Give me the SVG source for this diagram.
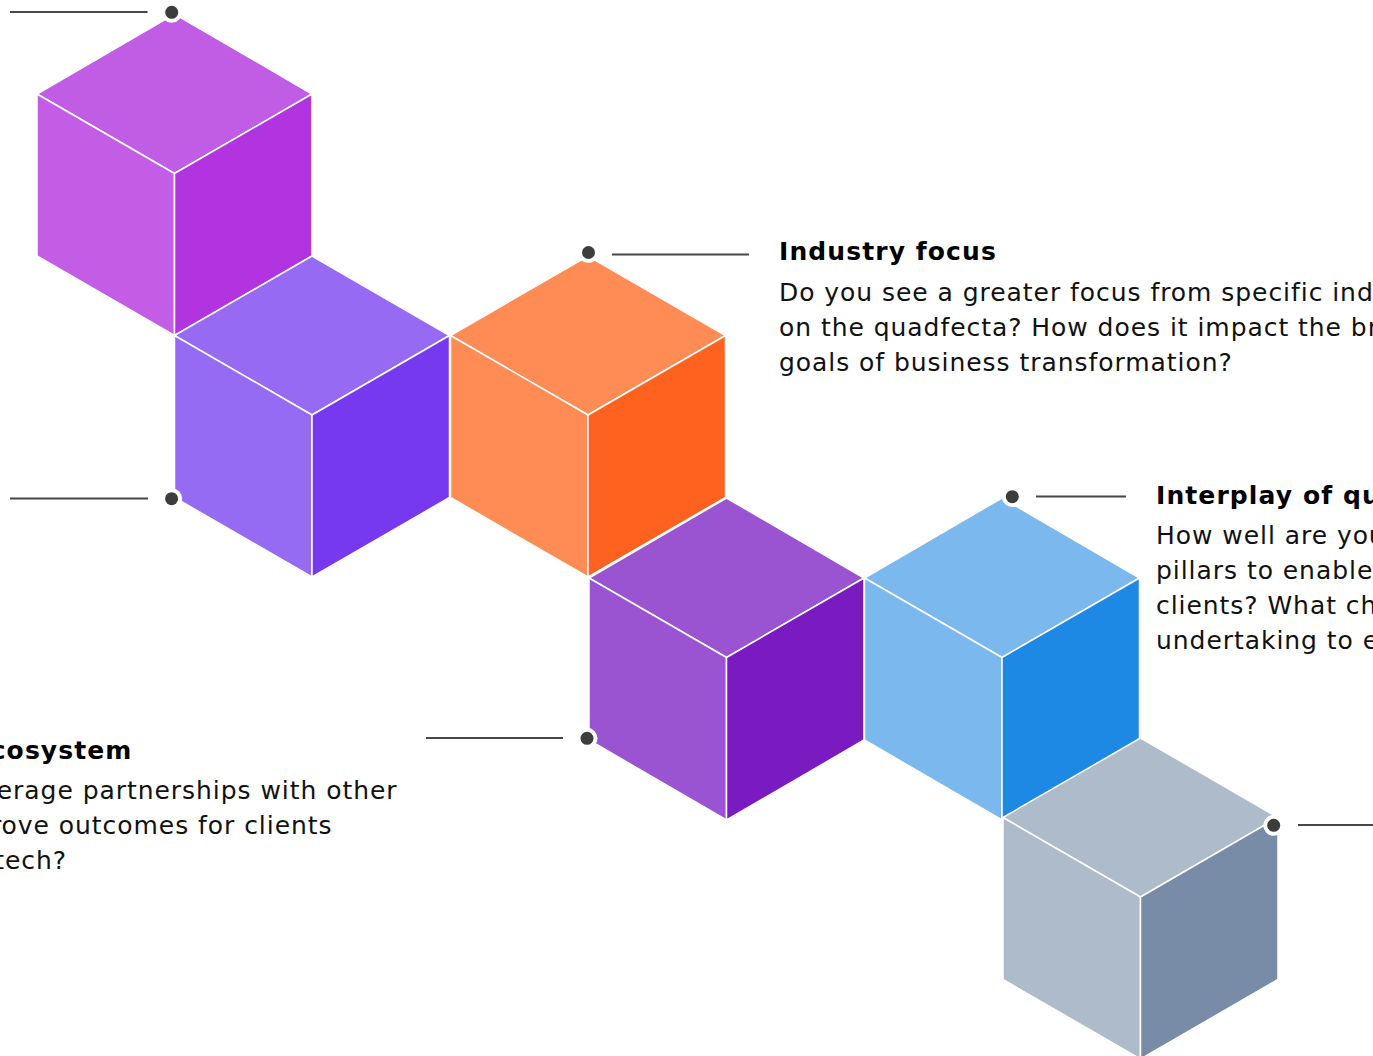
<svg xmlns="http://www.w3.org/2000/svg" width="1373" height="1056" viewBox="0 0 1373 1056">
<style>
.f{stroke:#ffffff;stroke-width:1.5;stroke-linejoin:round}
.ln{stroke:#474747;stroke-width:2;fill:none}
.ring{fill:#ffffff}
.dot{fill:#3d3d3d}
.t{font-family:"DejaVu Sans",Verdana,sans-serif;font-size:25px;font-weight:bold;fill:#000000;letter-spacing:1.1px}
.b{font-family:"DejaVu Sans",Verdana,sans-serif;font-size:25px;fill:#111111;letter-spacing:0.95px}
</style>
<rect width="1373" height="1056" fill="#ffffff"/>
<g id="cube1">
<polygon class="f" fill="#C15CE5" points="174.5,14 312,94 174.5,173.5 37,94"/>
<polygon class="f" fill="#C35DE6" points="37,94 174.5,173.5 174.5,335.5 37,256"/>
<polygon class="f" fill="#B234E0" points="174.5,173.5 312,94 312,256 174.5,335.5"/>
</g>
<g id="cube2">
<polygon class="f" fill="#966AF3" points="312,256 449.5,335.5 312,415 174.5,335.5"/>
<polygon class="f" fill="#966BF4" points="174.5,335.5 312,415 312,577 174.5,497.5"/>
<polygon class="f" fill="#7639F0" points="312,415 449.5,335.5 449.5,497.5 312,577"/>
</g>
<g id="cube3">
<polygon class="f" fill="#FF8B55" points="588,256 725.5,335.5 588,415 450.5,335.5"/>
<polygon class="f" fill="#FF8B55" points="450.5,335.5 588,415 588,577 450.5,497.5"/>
<polygon class="f" fill="#FF621E" points="588,415 725.5,335.5 725.5,497.5 588,577"/>
</g>
<g id="cube4">
<polygon class="f" fill="#9A54D1" points="726.5,498 864,578 726.5,657.5 589,578"/>
<polygon class="f" fill="#9A54D1" points="589,578 726.5,657.5 726.5,820 589,740"/>
<polygon class="f" fill="#7A1BC1" points="726.5,657.5 864,578 864,740 726.5,820"/>
</g>
<g id="cube5">
<polygon class="f" fill="#7AB8EE" points="1002,498 1139.5,578 1002,657.5 864.5,578"/>
<polygon class="f" fill="#7AB8EE" points="864.5,578 1002,657.5 1002,820 864.5,740"/>
<polygon class="f" fill="#1E88E5" points="1002,657.5 1139.5,578 1139.5,740 1002,820"/>
</g>
<g id="cube6">
<polygon class="f" fill="#AEBBCB" points="1140.5,738 1278,817.5 1140.5,897 1003,817.5"/>
<polygon class="f" fill="#AEBBCB" points="1003,817.5 1140.5,897 1140.5,1059 1003,979.5"/>
<polygon class="f" fill="#788CA7" points="1140.5,897 1278,817.5 1278,979.5 1140.5,1059"/>
</g>
<g id="connectors">
<line class="ln" x1="10" y1="12" x2="147.5" y2="12"/>
<line class="ln" x1="612" y1="254.5" x2="749" y2="254.5"/>
<line class="ln" x1="10" y1="498.5" x2="148" y2="498.5"/>
<line class="ln" x1="1036" y1="496.5" x2="1126" y2="496.5"/>
<line class="ln" x1="426" y1="738" x2="563" y2="738"/>
<line class="ln" x1="1298" y1="825" x2="1373" y2="825"/>
<circle class="ring" cx="171.7" cy="12.3" r="10.5"/>
<circle class="dot" cx="171.7" cy="12.3" r="6.5"/>
<circle class="ring" cx="588.5" cy="252.5" r="10.5"/>
<circle class="dot" cx="588.5" cy="252.5" r="6.5"/>
<circle class="ring" cx="171.6" cy="498.7" r="10.5"/>
<circle class="dot" cx="171.6" cy="498.7" r="6.5"/>
<circle class="ring" cx="1012.3" cy="496.7" r="10.5"/>
<circle class="dot" cx="1012.3" cy="496.7" r="6.5"/>
<circle class="ring" cx="587" cy="738.3" r="10.5"/>
<circle class="dot" cx="587" cy="738.3" r="6.5"/>
<circle class="ring" cx="1273.7" cy="825.3" r="10.5"/>
<circle class="dot" cx="1273.7" cy="825.3" r="6.5"/>
</g>
<g id="industry-focus">
<text class="t" x="779" y="259.5">Industry focus</text>
<text class="b" x="779" y="300.5">Do you see a greater focus from specific ind</text>
<text class="b" x="779" y="335.5">on the quadfecta? How does it impact the br</text>
<text class="b" x="779" y="370.5">goals of business transformation?</text>
</g>
<g id="interplay">
<text class="t" x="1156" y="504">Interplay of qu</text>
<text class="b" x="1156" y="543.5">How well are you</text>
<text class="b" x="1156" y="578.5">pillars to enable</text>
<text class="b" x="1156" y="613.5">clients? What ch</text>
<text class="b" x="1156" y="648.5">undertaking to e</text>
</g>
<g id="ecosystem">
<text class="t" x="132.5" y="758.5" text-anchor="end">cosystem</text>
<text class="b" x="397.5" y="799" text-anchor="end">erage partnerships with other</text>
<text class="b" x="332.5" y="834" text-anchor="end">rove outcomes for clients</text>
<text class="b" x="67" y="868.5" text-anchor="end">tech?</text>
</g>
</svg>
